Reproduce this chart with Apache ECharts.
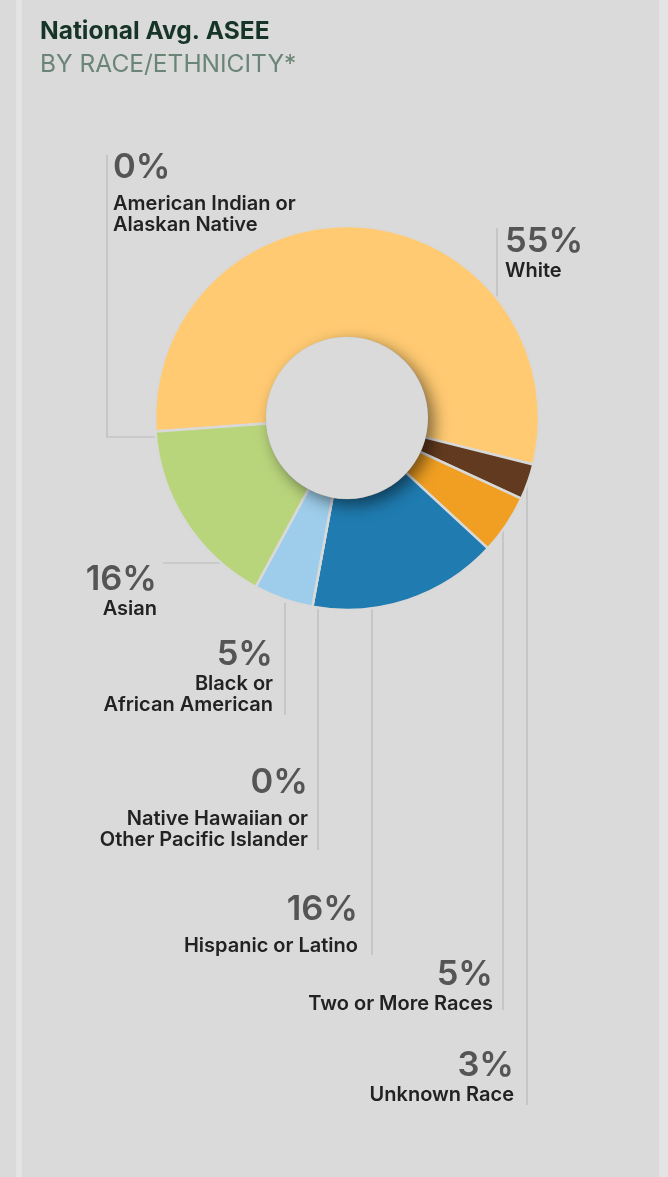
<!DOCTYPE html>
<html>
<head>
<meta charset="utf-8">
<title>National Avg. ASEE by Race/Ethnicity</title>
<script src="https://cdn.jsdelivr.net/npm/echarts@6/dist/echarts.min.js"></script>
<style>
  html, body { margin: 0; padding: 0; }
  body {
    width: 668px; height: 1177px; overflow: hidden;
    background: linear-gradient(to right, #dadada 0 16px, #e4e4e4 16px 22px, #dadada 22px 659px, #e4e4e4 659px);
  }
  #chart { width: 668px; height: 1177px; }
</style>
</head>
<body>
<div id="chart"></div>
<script>
// Share of students by race/ethnicity (percent), in drawing order clockwise
const categories = [
  'American Indian or\nAlaskan Native',
  'White',
  'Unknown Race',
  'Two or More Races',
  'Hispanic or Latino',
  'Native Hawaiian or\nOther Pacific Islander',
  'Black or\nAfrican American',
  'Asian'
];
const shares = [0, 55, 3, 5, 16, 0, 5, 16];
const sliceColors = ['#c9a06a', '#ffca72', '#623a1f', '#f09f22', '#1f7bb0', '#4a9bd0', '#9dcdea', '#b9d57c'];

// Where each callout sits and how its leader line runs
const callouts = [
  { x: 113, y: 143, align: 'left',  gap: 'q', line: [[158, 437], [107, 437], [107, 155]] },
  { x: 505, y: 224, align: 'left',  gap: 'p', line: [[497, 324], [497, 228]] },
  { x: 514, y: 1048, align: 'right', gap: 'p', line: [[527, 479], [527, 1105]] },
  { x: 493, y: 957, align: 'right', gap: 'p', line: [[503, 495], [503, 1010]] },
  { x: 358, y: 885, align: 'right', gap: 'q', line: [[372, 590], [372, 955]] },
  { x: 308, y: 758, align: 'right', gap: 'q', line: [[318, 605], [318, 850]] },
  { x: 273, y: 637, align: 'right', gap: 'p', line: [[285, 603], [285, 715]] },
  { x: 157, y: 562, align: 'right', gap: 'p', line: [[250, 563], [163, 563]] }
];

const FONT = 'Inter, "Noto Sans", sans-serif';
const center = [347, 418];

const chart = echarts.init(document.getElementById('chart'), null, { renderer: 'canvas' });

const pieData = categories.map((name, i) => ({
  name: name,
  value: shares[i],
  itemStyle: { color: sliceColors[i] }
}));

chart.setOption({
  backgroundColor: 'transparent',
  animation: false,
  title: {
    left: 35,
    top: 14,
    text: 'National Avg. ASEE',
    subtext: 'BY RACE/ETHNICITY*',
    itemGap: 8,
    textStyle: { fontFamily: FONT, fontSize: 24.5, fontWeight: 700, color: '#163528' },
    subtextStyle: { fontFamily: FONT, fontSize: 24.5, fontWeight: 400, color: '#6a8577' }
  },
  series: [
    {
      type: 'pie',
      center: center,
      radius: [80, 192],
      startAngle: 184,
      clockwise: true,
      avoidLabelOverlap: false,
      stillShowZeroSum: true,
      itemStyle: { borderColor: '#d9d9d9', borderWidth: 2.5 },
      emphasis: { disabled: true },
      label: {
        show: true,
        position: 'outside',
        fontFamily: FONT,
        formatter: function (p) {
          const g = callouts[p.dataIndex].gap;
          return '{' + g + '|' + p.value + '%}\n{n|' + p.name + '}';
        },
        rich: {
          p: { fontFamily: FONT, fontSize: 34.5, fontWeight: 600, color: '#555555', lineHeight: 36 },
          q: { fontFamily: FONT, fontSize: 34.5, fontWeight: 600, color: '#555555', lineHeight: 50 },
          n: { fontFamily: FONT, fontSize: 20, fontWeight: 600, color: '#222222', lineHeight: 21 }
        }
      },
      labelLine: {
        show: true,
        length: 10,
        length2: 10,
        lineStyle: { color: '#b9b9b9', width: 1.2 }
      },
      labelLayout: function (params) {
        const c = callouts[params.dataIndex];
        return {
          x: c.x,
          y: c.y,
          align: c.align,
          verticalAlign: 'top',
          labelLinePoints: c.line
        };
      },
      data: pieData
    },
    {
      // centre disc casting a soft shadow onto the ring
      type: 'pie',
      center: center,
      radius: [0, 81],
      silent: true,
      label: { show: false },
      labelLine: { show: false },
      itemStyle: {
        color: '#dadada',
        shadowBlur: 16,
        shadowColor: 'rgba(0,0,0,0.5)',
        shadowOffsetX: 6,
        shadowOffsetY: 6
      },
      data: [{ value: 1, name: 'centre' }]
    }
  ]
});
</script>
</body>
</html>
